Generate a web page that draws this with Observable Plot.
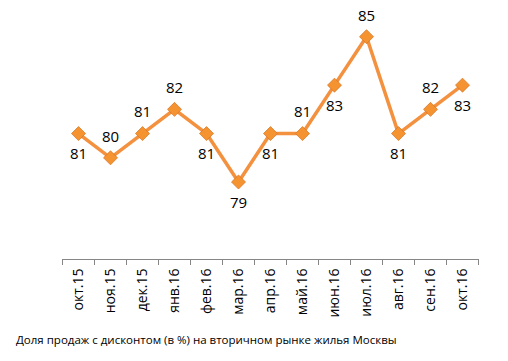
<!DOCTYPE html>
<html>
<head>
<meta charset="utf-8">
<script src="https://cdn.jsdelivr.net/npm/d3@7"></script>
<script src="https://cdn.jsdelivr.net/npm/@observablehq/plot@0.6"></script>
<style>
  html, body { margin: 0; padding: 0; background: #fff; }
  #wrap { position: relative; width: 508px; height: 361px; }
  #caption { position: absolute; left: 16px; top: 332px; font-family: "Open Sans", sans-serif; font-size: 11.5px; color: #000; white-space: nowrap; }
</style>
</head>
<body>
<div id="wrap">
  <div id="chart"></div>
  <div id="caption">Доля продаж с дисконтом (в %) на вторичном рынке жилья Москвы</div>
</div>
<script>
const months = ["окт.15","ноя.15","дек.15","янв.16","фев.16","мар.16","апр.16","май.16","июн.16","июл.16","авг.16","сен.16","окт.16"];
const values = [81, 80, 81, 82, 81, 79, 81, 81, 83, 85, 81, 82, 83];
const labelBelow = [true, false, false, false, true, true, true, false, true, false, true, false, true];

const data = months.map((m, i) => ({i, month: m, value: values[i], below: labelBelow[i]}));
const boundaries = d3.range(months.length + 1).map(k => k - 0.5);

const chart = Plot.plot({
  width: 508,
  height: 325,
  marginLeft: 62,
  marginRight: 30,
  marginTop: 12,
  marginBottom: 66,
  style: {fontFamily: "'Open Sans', sans-serif", background: "#fff"},
  x: {type: "linear", domain: [-0.5, months.length - 0.5], label: null},
  y: {domain: [75.8, 86], axis: null},
  marks: [
    Plot.ruleY([75.8], {stroke: "#868686", strokeWidth: 1}),
    Plot.axisX(boundaries, {tickSize: 6, tickFormat: () => "", label: null, stroke: "#868686", strokeOpacity: 1}),
    Plot.axisX(d3.range(months.length), {tickSize: 0, tickPadding: 9, tickRotate: -90, tickFormat: i => months[i], label: null, fontSize: 14, fill: "#000"}),
    Plot.line(data, {x: "i", y: "value", stroke: "#F3913F", strokeWidth: 3.5}),
    Plot.dot(data, {x: "i", y: "value", symbol: "diamond2", r: 6.3, fill: "#F59331", stroke: "#D8782A", strokeWidth: 0.8}),
    Plot.text(data.filter(d => d.below), {x: "i", y: "value", text: d => String(d.value), dy: 21, fontSize: 15, fill: "#000"}),
    Plot.text(data.filter(d => !d.below), {x: "i", y: "value", text: d => String(d.value), dy: -21, fontSize: 15, fill: "#000"})
  ]
});
document.getElementById("chart").appendChild(chart);
</script>
</body>
</html>
